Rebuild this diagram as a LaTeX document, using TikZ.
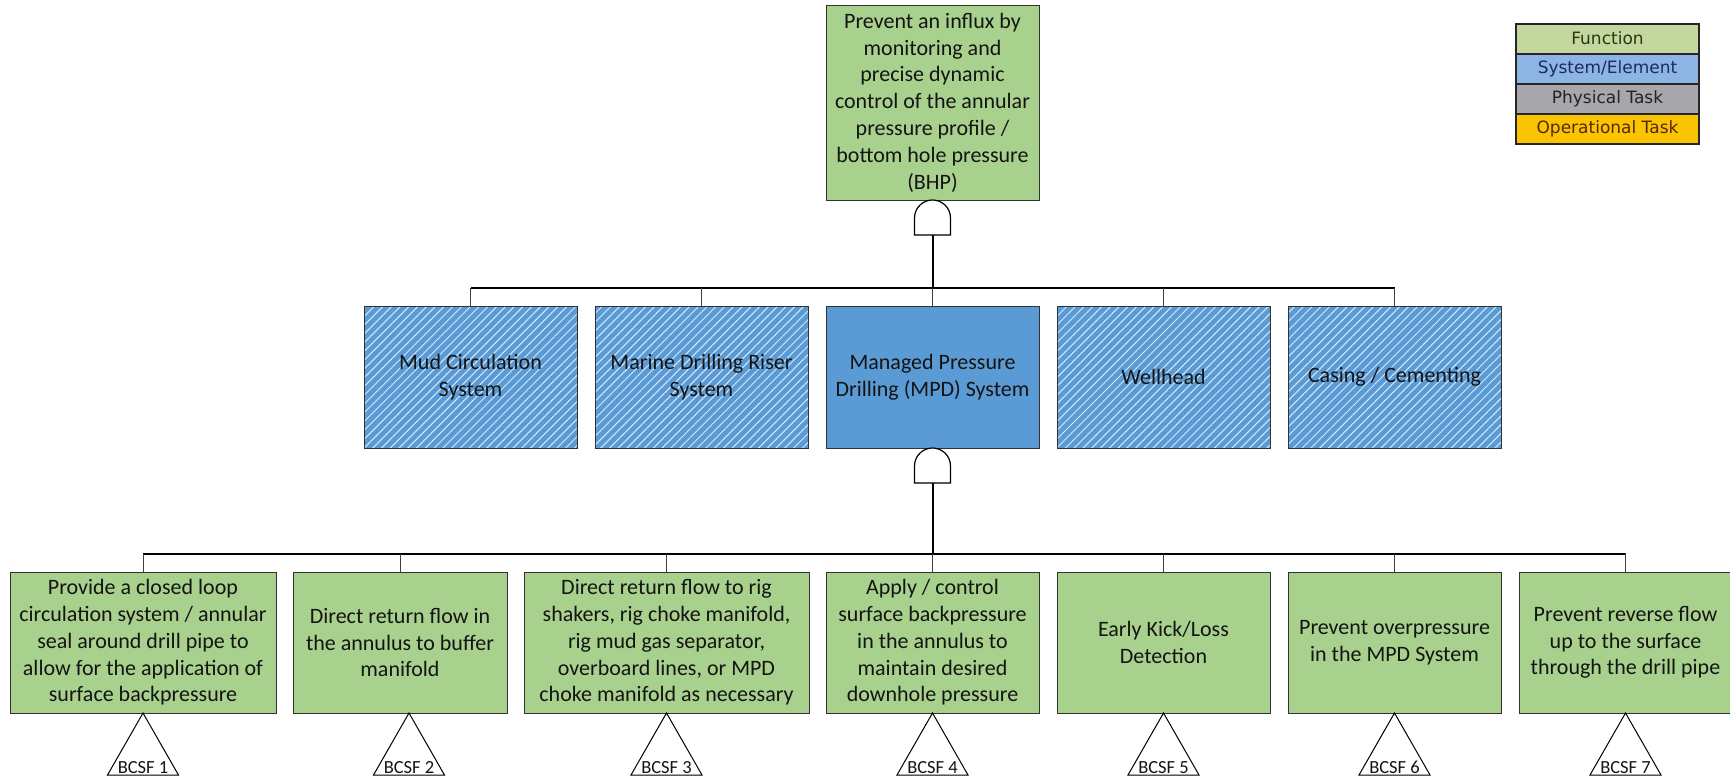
\documentclass[tikz,border=0pt]{standalone}
\usepackage{fontspec}
\setmainfont{Carlito}
\newfontfamily\legendfont{DejaVu Sans}
\usetikzlibrary{patterns.meta}

\definecolor{fngreen}{RGB}{169,209,142}
\definecolor{sysblue}{RGB}{91,155,213}
\definecolor{hatchline}{RGB}{215,232,248}
\definecolor{boxline}{RGB}{50,50,50}
\definecolor{textdark}{RGB}{20,20,20}
\definecolor{lgFunction}{RGB}{196,215,158}
\definecolor{lgSystem}{RGB}{142,180,227}
\definecolor{lgPhysical}{RGB}{168,168,172}
\definecolor{lgOperational}{RGB}{250,196,0}
\definecolor{lgtFunction}{RGB}{40,55,20}
\definecolor{lgtSystem}{RGB}{25,45,100}
\definecolor{lgtPhysical}{RGB}{35,35,35}
\definecolor{lgtOperational}{RGB}{85,40,10}

\tikzset{
  boxtext/.style={font=\fontsize{22pt}{26.8pt}\selectfont, text=textdark, align=center},
  fnbox/.style={boxtext, draw=boxline, line width=1pt, fill=fngreen,
    minimum width=213pt, minimum height=141pt, inner sep=0pt, outer sep=0pt},
  sysbox/.style={boxtext, draw=boxline, line width=1pt, fill=sysblue,
    minimum width=213pt, minimum height=142pt, inner sep=0pt, outer sep=0pt},
  hatchbox/.style={sysbox, fill=none, preaction={fill=sysblue},
    pattern={Lines[angle=45,distance=6.2pt,line width=1pt]}, pattern color=hatchline},
  gateshape/.style={draw=black, line width=1.2pt, fill=white},
  trunk/.style={draw=black, line width=2pt},
  bus/.style={draw=black, line width=1.3pt},
  drop/.style={draw=black!75, line width=1pt},
  transfer/.style={draw=black, line width=1pt, fill=white},
  trilabel/.style={font=\fontsize{18.5pt}{20pt}\selectfont, text=textdark, inner sep=0pt},
  legendrow/.style={draw=black!85, line width=2pt, minimum width=183pt, minimum height=30pt,
    inner sep=0pt, font=\legendfont\fontsize{17pt}{18pt}\selectfont},
}

\begin{document}
\begin{tikzpicture}[x=1pt, y=-1pt]
\useasboundingbox (0,0) rectangle (1730,777);

% top function
\node[fnbox, minimum height=195pt] (top) at (932.5,102.5)
  {Prevent an influx by\\monitoring and\\precise dynamic\\control of the annular\\pressure profile /\\bottom hole pressure\\(BHP)};

% systems / elements
\node[hatchbox] (mud)    at (470.5,377) {Mud Circulation\\System};
\node[hatchbox] (riser)  at (701.5,377) {Marine Drilling Riser\\System};
\node[sysbox]   (mpd)    at (932.5,377) {Managed Pressure\\Drilling (MPD) System};
\node[hatchbox] (whead)  at (1163.5,377) {Wellhead};
\node[hatchbox] (casing) at (1394.5,377) {Casing / Cementing};

% sub-functions
\node[fnbox, minimum width=266pt] (f1) at (143,642.5)
  {Provide a closed loop\\circulation system / annular\\seal around drill pipe to\\allow for the application of\\surface backpressure};
\node[fnbox, minimum width=214pt] (f2) at (400,642.5)
  {Direct return flow in\\the annulus to buffer\\manifold};
\node[fnbox, minimum width=285pt] (f3) at (666.5,642.5)
  {Direct return flow to rig\\shakers, rig choke manifold,\\rig mud gas separator,\\overboard lines, or MPD\\choke manifold as necessary};
\node[fnbox] (f4) at (932.5,642.5)
  {Apply / control\\surface backpressure\\in the annulus to\\maintain desired\\downhole pressure};
\node[fnbox] (f5) at (1163.5,642.5) {Early Kick/Loss\\Detection};
\node[fnbox] (f6) at (1394.5,642.5) {Prevent overpressure\\in the MPD System};
\node[fnbox] (f7) at (1625.5,642.5) {Prevent reverse flow\\up to the surface\\through the drill pipe};

% AND gates below the parent boxes
\coordinate (g1) at (932.5,235);
\coordinate (g2) at (932.5,483);
\foreach \g in {g1,g2}{
  \draw[gateshape] ([xshift=-18pt]\g) -- ++(0,-17) arc(180:360:18) -- ++(0,17) -- cycle;
}

% bus levels
\coordinate (busA) at (0,288);
\coordinate (busB) at (0,554);

% top level tree
\draw[trunk] (g1) -- (g1 |- busA);
\draw[bus] (mud.north |- busA) -- (casing.north |- busA);
\foreach \n in {mud,riser,mpd,whead,casing}{
  \draw[drop] (\n.north) -- (\n.north |- busA);
}

% MPD tree
\draw[trunk] (g2) -- (g2 |- busB);
\draw[bus] (f1.north |- busB) -- (f7.north |- busB);
\foreach \n in {f1,f2,f3,f4,f5,f6,f7}{
  \draw[drop] (\n.north) -- (\n.north |- busB);
}

% transfer triangles
\coordinate (t1) at (f1.south);
\coordinate (t2) at ([xshift=9pt]f2.south);
\coordinate (t3) at (f3.south);
\coordinate (t4) at (f4.south);
\coordinate (t5) at (f5.south);
\coordinate (t6) at (f6.south);
\coordinate (t7) at (f7.south);
\foreach \i in {1,...,7}{
  \draw[transfer] (t\i) -- ++(-35.5,62) -- ++(71,0) -- cycle;
  \path (t\i) ++(0,60) node[trilabel, anchor=base] (lab\i) {BCSF \i};
}

% legend
\node[legendrow, fill=lgFunction, text=lgtFunction]       (lg1) at (1607.5,38.5)  {Function};
\node[legendrow, fill=lgSystem, text=lgtSystem]           (lg2) at (1607.5,68.5)  {System/Element};
\node[legendrow, fill=lgPhysical, text=lgtPhysical]       (lg3) at (1607.5,98.5)  {Physical Task};
\node[legendrow, fill=lgOperational, text=lgtOperational] (lg4) at (1607.5,128.5) {Operational Task};
\end{tikzpicture}
\end{document}
